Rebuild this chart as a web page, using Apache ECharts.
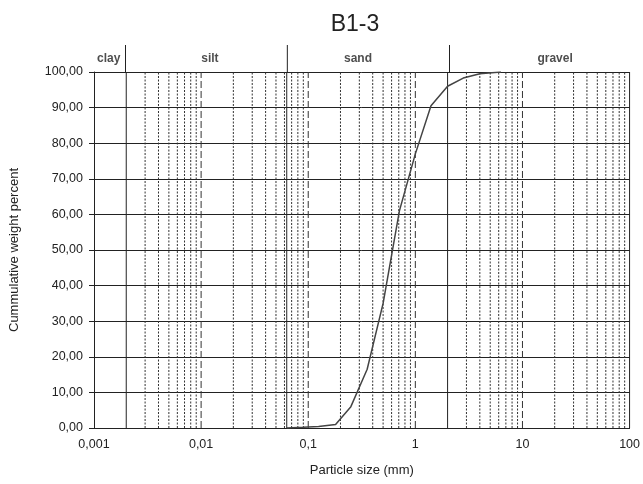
<!DOCTYPE html>
<html><head><meta charset="utf-8">
<script src="https://cdn.jsdelivr.net/npm/echarts@6/dist/echarts.min.js"></script>
<style>html,body{margin:0;padding:0;background:#fff}#c{width:643px;height:484px}</style>
</head><body><div id="c"></div>
<script>
const titleText = 'B1-3';
const particleSize = [0.063, 0.09, 0.125, 0.18, 0.25, 0.355, 0.5, 0.71, 1, 1.4, 2, 2.8, 4, 6.3];
const cumPercent   = [0, 0.2, 0.4, 1, 6, 16.5, 35, 61, 77, 90.5, 96, 98.3, 99.5, 100];
const classBounds = [0.002, 0.063, 2];
const classNames = ['clay', 'silt', 'sand', 'gravel'];
const decadeLines = [0.01, 0.1, 1, 10];
const xTickLabels = ['0,001', '0,01', '0,1', '1', '10', '100'];

const FONT = 'Liberation Sans, Arial, sans-serif';
const DARK = '#222';

// minor (2..9 x decade) lines, skipping class boundaries
const minorLines = [];
for (const dec of [0.001, 0.01, 0.1, 1, 10]) {
  for (let k = 2; k <= 9; k++) {
    const v = +(k * dec).toPrecision(3);
    if (!classBounds.some(b => Math.abs(b - v) < 1e-12)) minorLines.push(v);
  }
}

const lineData = particleSize.map((d, i) => [d, cumPercent[i]]);
const labelPos = [0.0014, 0.0121, 0.284, 19]; // label anchor positions in header

function vline(v, type, color, xi, yi, yTop) {
  return {type: 'line', xAxisIndex: xi, yAxisIndex: yi, data: [[v, 0], [v, yTop]],
    symbol: 'none', silent: true, z: 1, animation: false,
    lineStyle: {type: type, color: color, width: 1}};
}

const series = [];
minorLines.forEach(v => series.push(vline(v, [2, 1.5], '#333', 0, 0, 100)));
decadeLines.forEach(v => series.push(vline(v, [7, 3], '#333', 0, 0, 100)));
classBounds.forEach(v => series.push(vline(v, 'solid', DARK, 0, 0, 100)));
series.push(vline(100, 'solid', DARK, 0, 0, 100));
classBounds.forEach(v => series.push(vline(v, 'solid', DARK, 1, 1, 1)));
series.push({type: 'scatter', xAxisIndex: 1, yAxisIndex: 1, symbolSize: 0, silent: true,
  data: classNames.map((n, i) => ({value: [labelPos[i], 0.5], name: n})),
  label: {show: true, position: 'inside', formatter: p => p.name, fontFamily: FONT, fontSize: 12,
    fontWeight: 'bold', color: '#222'}});
series.push({type: 'line', xAxisIndex: 0, yAxisIndex: 0, name: 'B1-3', data: lineData,
  symbol: 'none', smooth: false, z: 5, lineStyle: {color: '#444', width: 1.5}});

const chart = echarts.init(document.getElementById('c'), null, {renderer: 'canvas'});
chart.setOption({
  animation: false,
  backgroundColor: '#fff',
  title: {text: titleText, left: 350, top: 8, textAlign: 'center',
    textStyle: {fontFamily: FONT, fontSize: 23, fontWeight: 'normal', color: '#222'}},
  grid: [
    {left: 93, right: 10, top: 72, bottom: 56},
    {left: 93, right: 10, top: 45, height: 27}
  ],
  xAxis: [
    {type: 'log', logBase: 10, min: 0.001, max: 100, gridIndex: 0,
     name: 'Particle size (mm)', nameLocation: 'middle', nameGap: 36,
     nameTextStyle: {fontFamily: FONT, fontSize: 13, color: DARK},
     axisLine: {show: true, lineStyle: {color: DARK, width: 1}},
     axisTick: {show: false},
     splitLine: {show: false},
     minorTick: {show: false}, minorSplitLine: {show: false},
     axisLabel: {fontFamily: FONT, fontSize: 12.5, color: DARK, margin: 10,
       formatter: v => {
         const idx = Math.round(Math.log10(v)) + 3;
         return xTickLabels[idx] !== undefined ? xTickLabels[idx] : '';
       }}},
    {type: 'log', logBase: 10, min: 0.001, max: 100, gridIndex: 1, show: false}
  ],
  yAxis: [
    {type: 'value', min: 0, max: 100, interval: 10, gridIndex: 0,
     name: 'Cummulative weight percent', nameLocation: 'middle', nameGap: 73,
     nameTextStyle: {fontFamily: FONT, fontSize: 13, color: DARK},
     axisLine: {show: true, lineStyle: {color: DARK, width: 1}},
     axisTick: {show: true, length: 5, lineStyle: {color: DARK}},
     splitLine: {show: true, lineStyle: {color: DARK, width: 1}},
     axisLabel: {fontFamily: FONT, fontSize: 12.5, color: DARK, margin: 11,
       formatter: v => v.toFixed(2).replace('.', ',')}},
    {type: 'value', min: 0, max: 1, gridIndex: 1, show: false}
  ],
  series: series
});
</script></body></html>
